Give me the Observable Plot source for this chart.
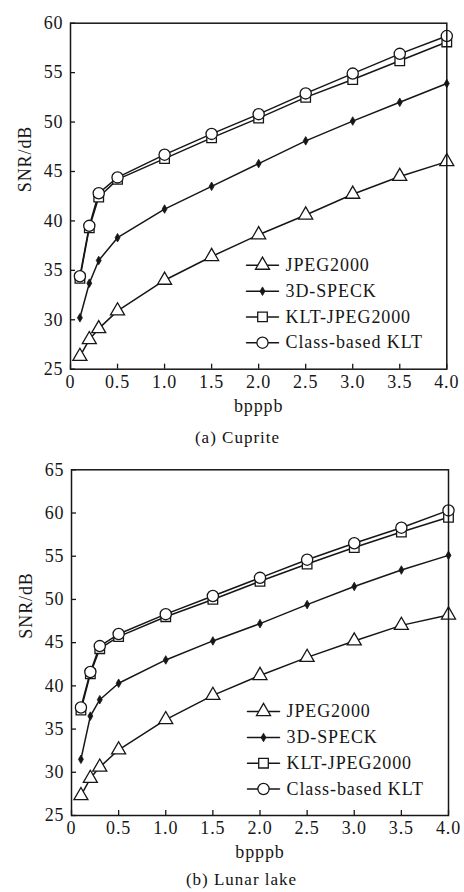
<!DOCTYPE html>
<html>
<head>
<meta charset="utf-8">
<script src="https://cdn.jsdelivr.net/npm/d3@7"></script>
<script src="https://cdn.jsdelivr.net/npm/@observablehq/plot@0.6"></script>
<style>
  html, body { margin: 0; padding: 0; background: #fff; }
  #wrap { position: relative; width: 464px; height: 892px; overflow: hidden; background: #fff; }
  .chart { position: absolute; left: 0; }
  .cap { position: absolute; font-family: "Liberation Serif", "DejaVu Serif", serif; font-size: 17px;
         letter-spacing: 1px; color: #111; text-align: center; line-height: 20px; white-space: nowrap; }
</style>
</head>
<body>
<div id="wrap">
  <div id="c1" class="chart" style="top:0px"></div>
  <div id="c2" class="chart" style="top:450px"></div>
  <div class="cap" style="left:0px; width:475px; top:428px">(a) Cuprite</div>
  <div class="cap" style="left:0px; width:483px; top:870px">(b) Lunar lake</div>
</div>
<script>
// ---- data ----
const bpppb = [0.1, 0.2, 0.3, 0.5, 1.0, 1.5, 2.0, 2.5, 3.0, 3.5, 4.0];
const seriesNames = ["JPEG2000", "3D-SPECK", "KLT-JPEG2000", "Class-based KLT"];
const xTicks = [0, 0.5, 1.0, 1.5, 2.0, 2.5, 3.0, 3.5, 4.0];
const yTicksA = [25, 30, 35, 40, 45, 50, 55, 60];
const yTicksB = [25, 30, 35, 40, 45, 50, 55, 60, 65];

// (a) Cuprite
const jpeg2000A = [26.3, 28.0, 29.1, 30.9, 34.0, 36.4, 38.6, 40.6, 42.7, 44.5, 46.0];
const speckA    = [30.2, 33.7, 36.0, 38.3, 41.2, 43.5, 45.8, 48.1, 50.1, 52.0, 53.9];
const kltA      = [34.2, 39.3, 42.4, 44.2, 46.3, 48.4, 50.4, 52.5, 54.3, 56.2, 58.1];
const classA    = [34.4, 39.5, 42.8, 44.4, 46.7, 48.8, 50.8, 52.9, 54.9, 56.9, 58.7];

// (b) Lunar lake
const jpeg2000B = [27.3, 29.3, 30.6, 32.6, 36.1, 38.9, 41.2, 43.3, 45.2, 47.0, 48.2];
const speckB    = [31.5, 36.5, 38.4, 40.3, 43.0, 45.2, 47.2, 49.4, 51.5, 53.4, 55.1];
const kltB      = [37.2, 41.4, 44.3, 45.7, 48.0, 50.0, 52.1, 54.1, 56.0, 57.8, 59.5];
const classB    = [37.5, 41.6, 44.6, 46.0, 48.3, 50.4, 52.5, 54.6, 56.5, 58.3, 60.3];

// ---- styles per series ----
const INK = "#161616";
const symStyles = [
  {symbol: "triangle", r: 5.2, fill: "white", stroke: INK, strokeWidth: 1.3},
  {symbol: "diamond", r: 2.6, fill: INK, stroke: INK, strokeWidth: 0.8},
  {symbol: "square", r: 5.4, fill: "white", stroke: INK, strokeWidth: 1.3},
  {symbol: "circle", r: 5.6, fill: "white", stroke: INK, strokeWidth: 1.3}
];

const lineShape = {draw(ctx, l) { ctx.moveTo(0, 0); ctx.lineTo(0, -l); }};

function chart({height, marginTop, marginBottom, marginLeft, marginRight, yDomain, yTicks, values}) {
  const rows = values.map((vals, si) => bpppb.map((x, i) => ({x, y: vals[i], s: seriesNames[si]})));
  const marks = [];
  // lines
  rows.forEach(r => marks.push(Plot.line(r, {x: "x", y: "y", stroke: INK, strokeWidth: 1.5})));
  // markers
  rows.forEach((r, si) => marks.push(Plot.dot(r, {x: "x", y: "y", ...symStyles[si]})));
  // legend
  const legendDy = [-104, -78, -52.3, -26.5];
  seriesNames.forEach((name, si) => {
    marks.push(Plot.vector([name], {frameAnchor: "bottom-left", dx: 176, dy: legendDy[si],
      length: 32, rotate: 90, anchor: "start", shape: lineShape, stroke: INK, strokeWidth: 1.5}));
    marks.push(Plot.dot([name], {frameAnchor: "bottom-left", dx: 192, dy: legendDy[si], ...symStyles[si]}));
    marks.push(Plot.text([name], {frameAnchor: "bottom-left", dx: 215, dy: legendDy[si], text: d => d,
      textAnchor: "start", lineAnchor: "middle", fill: INK, fontSize: 18}));
  });
  // axis titles
  marks.push(Plot.text(["SNR/dB"], {frameAnchor: "left", dx: -45, dy: -4, rotate: -90, text: d => d,
    fill: INK, fontSize: 18, lineAnchor: "middle"}));
  marks.push(Plot.text(["bpppb"], {frameAnchor: "bottom", dy: 37, text: d => d,
    fill: INK, fontSize: 18, lineAnchor: "middle"}));
  // axes and frame
  marks.push(Plot.axisX({ticks: xTicks, tickFormat: d => d === 0 ? "0" : d.toFixed(1),
    tickSize: -5, tickPadding: 11, stroke: INK, strokeWidth: 1.3, fill: INK, fontSize: 18, label: null}));
  marks.push(Plot.axisY({ticks: yTicks, tickFormat: d => String(d),
    tickSize: -5, tickPadding: 12, stroke: INK, strokeWidth: 1.3, fill: INK, fontSize: 18, label: null}));
  marks.push(Plot.frame({stroke: INK, strokeWidth: 1.5}));

  return Plot.plot({
    width: 464, height, marginTop, marginBottom, marginLeft, marginRight,
    x: {domain: [0, 4]},
    y: {domain: yDomain},
    style: {fontFamily: "'Liberation Serif', 'DejaVu Serif', serif", fontSize: "18px",
            letterSpacing: "0.9px", color: INK, background: "transparent", overflow: "visible"},
    marks
  });
}

document.getElementById("c1").appendChild(chart({
  height: 420, marginTop: 22.7, marginBottom: 51.3, marginLeft: 70, marginRight: 17.7,
  yDomain: [25, 60], yTicks: yTicksA, values: [jpeg2000A, speckA, kltA, classA]
}));
document.getElementById("c2").appendChild(chart({
  height: 420, marginTop: 19.3, marginBottom: 55, marginLeft: 71, marginRight: 16,
  yDomain: [25, 65], yTicks: yTicksB, values: [jpeg2000B, speckB, kltB, classB]
}));
</script>
</body>
</html>
